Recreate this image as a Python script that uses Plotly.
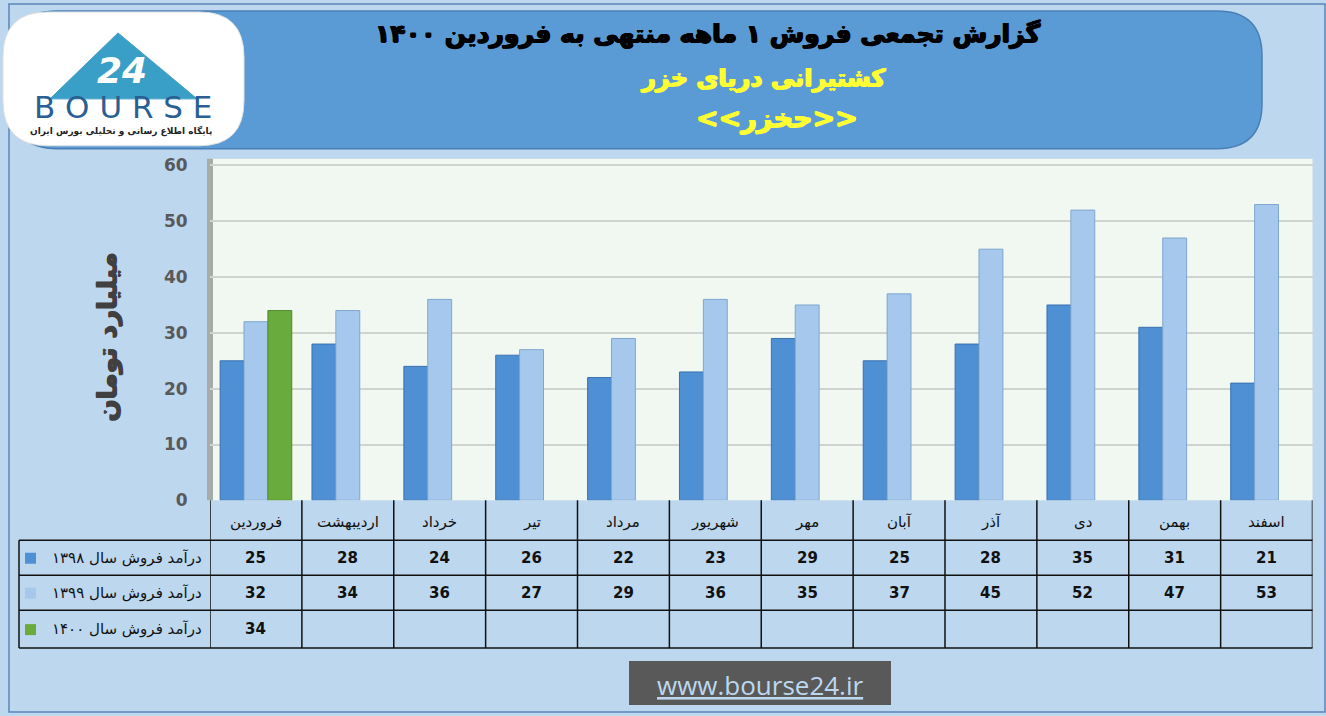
import plotly.graph_objects as go

months = ["فروردین", "اردیبهشت", "خرداد", "تیر", "مرداد", "شهریور",
          "مهر", "آبان", "آذر", "دی", "بهمن", "اسفند"]
sales_1398 = [25, 28, 24, 26, 22, 23, 29, 25, 28, 35, 31, 21]
sales_1399 = [32, 34, 36, 27, 29, 36, 35, 37, 45, 52, 47, 53]
sales_1400 = [34, None, None, None, None, None, None, None, None, None, None, None]
series_names = ["درآمد فروش سال ۱۳۹۸", "درآمد فروش سال ۱۳۹۹", "درآمد فروش سال ۱۴۰۰"]
series_colors = ["#4f8fd3", "#a6c8ec", "#6aab3e"]
series_lines = ["#3a72b0", "#7fa6cf", "#4e8a2a"]
y_ticks = [0, 10, 20, 30, 40, 50, 60]

W, H = 1326, 716
def px(x): return x / W
def py(y): return 1 - (y - 2) / H

FONT = "DejaVu Sans"

fig = go.Figure()
for vals, name, col, lc in zip([sales_1398, sales_1399, sales_1400], series_names, series_colors, series_lines):
    fig.add_trace(go.Bar(x=months, y=vals, name=name, marker=dict(color=col, line=dict(color=lc, width=1)),
                         showlegend=False))

def rrect(x0, y0, x1, y1, r):
    X0, X1 = px(x0), px(x1)
    Y0, Y1 = py(y0), py(y1)
    rx, ry = r / W, r / H
    return (f"M {X0+rx},{Y0} L {X1-rx},{Y0} Q {X1},{Y0} {X1},{Y0-ry} "
            f"L {X1},{Y1+ry} Q {X1},{Y1} {X1-rx},{Y1} L {X0+rx},{Y1} "
            f"Q {X0},{Y1} {X0},{Y1+ry} L {X0},{Y0-ry} Q {X0},{Y0} {X0+rx},{Y0} Z")

shapes = []
shapes.append(dict(type="rect", xref="paper", yref="paper", x0=px(9), x1=px(1325), y0=py(712), y1=py(3),
                   line=dict(color="#5a87b8", width=1.5), fillcolor="rgba(0,0,0,0)", layer="below"))
shapes.append(dict(type="path", xref="paper", yref="paper", path=rrect(12, 10, 1262, 148, 45),
                   fillcolor="#5b9bd5", line=dict(color="#4a7fb5", width=1.5), layer="above"))
shapes.append(dict(type="path", xref="paper", yref="paper", path=rrect(3, 11, 244, 145, 45),
                   fillcolor="#ffffff", line=dict(color="#e0e0e0", width=1), layer="above"))
shapes.append(dict(type="path", xref="paper", yref="paper",
                   path=f"M {px(118)},{py(32)} L {px(197)},{py(98)} L {px(50)},{py(98)} Z",
                   fillcolor="#3a9fc7", line=dict(color="#3a9fc7", width=1), layer="above"))
shapes.append(dict(type="rect", xref="paper", yref="paper", x0=px(207), x1=px(213), y0=py(500), y1=py(158),
                   fillcolor="#a8aca8", line=dict(width=0), layer="below"))
tl = dict(color="#111111", width=1.5)
for i in range(13):
    shapes.append(dict(type="line", xref="x", yref="paper", x0=i - 0.5, x1=i - 0.5, y0=py(500), y1=py(648), line=tl))
shapes.append(dict(type="line", xref="paper", yref="paper", x0=px(19), x1=px(19), y0=py(540), y1=py(648), line=tl))
for yy in [540, 575, 610, 648]:
    shapes.append(dict(type="line", xref="paper", yref="paper", x0=px(19), x1=px(1312.5), y0=py(yy), y1=py(yy), line=tl))
row_y = [557.5, 592.5, 629]
for col, ry in zip(series_colors, row_y):
    shapes.append(dict(type="rect", xref="paper", yref="paper", x0=px(25), x1=px(36), y0=py(ry + 6), y1=py(ry - 5),
                       fillcolor=col, line=dict(width=0)))
shapes.append(dict(type="rect", xref="paper", yref="paper", x0=px(629), x1=px(891), y0=py(705), y1=py(661),
                   fillcolor="#595959", line=dict(width=0)))

def A(text, x, y, size, color, xref="paper", xanchor="center", family=FONT, shadow=None, **kw):
    f = dict(family=family, size=size, color=color)
    if shadow:
        f["shadow"] = shadow
    d = dict(text=text, x=x, y=y, xref=xref, yref="paper", showarrow=False, xanchor=xanchor, yanchor="middle", font=f)
    d.update(kw)
    return d

def thick(c):
    return f"0.8px 0px 0px {c}, -0.8px 0px 0px {c}, 0px 0.8px 0px {c}"

ann = []
ann.append(A("<b>گزارش تجمعی فروش ۱ ماهه منتهی به فروردین ۱۴۰۰</b>", px(708), py(33), 25, "#000000", shadow=thick("#000000")))
ann.append(A("<b>کشتیرانی دریای خزر</b>", px(763), py(77), 24, "#ffff33", shadow=thick("#ffff33")))
ann.append(A("<b>&lt;&lt;حخزر&gt;&gt;</b>", px(777), py(117), 27, "#ffff33", shadow=thick("#ffff33")))
ann.append(A("<b><i>24</i></b>", px(122), py(70), 36, "#ffffff"))
ann.append(A("B&nbsp;O&nbsp;U&nbsp;R&nbsp;S&nbsp;E", px(123), py(106), 31, "#2a5f94"))
ann.append(A("<b>پایگاه اطلاع رسانی و تحلیلی بورس ایران</b>", px(121), py(130), 9, "#222222"))
ann.append(A("<b>میلیارد تومان</b>", px(108), py(337), 26, "#404040", textangle=-90, shadow=thick("#404040")))
for i, m in enumerate(months):
    ann.append(A(m, i, py(522), 15, "#111111", xref="x"))
for vals, ry in zip([sales_1398, sales_1399, sales_1400], row_y):
    for i, v in enumerate(vals):
        if v is not None:
            ann.append(A(f"<b>{v}</b>", i, py(ry), 15, "#111111", xref="x"))
for name, ry in zip(series_names, row_y):
    ann.append(A(name, px(204), py(ry), 15, "#111111", xanchor="right"))
ann.append(A("<u>www.bourse24.ir</u>", px(760), py(685), 26, "#bdd7ee", family="Open Sans"))

fig.update_layout(
    width=W, height=728,
    margin=dict(l=0, r=0, t=0, b=0),
    paper_bgcolor="#bdd7ee",
    plot_bgcolor="#f1f7f1",
    barmode="group",
    bargap=0.22,
    bargroupgap=0.0,
    xaxis=dict(domain=[px(210), px(1312.5)], showticklabels=False, ticks="", showgrid=False,
               zeroline=False, showline=False, range=[-0.5, 11.5]),
    yaxis=dict(domain=[py(500), py(158)], range=[0, 61.2], tickvals=y_ticks, showgrid=True,
               gridcolor="#d0d4d0", gridwidth=1.5, zeroline=False, showline=False,
               ticks="outside", ticklen=18, tickcolor="rgba(0,0,0,0)",
               tickfont=dict(family=FONT, size=17, color="#595959", weight="bold")),
    shapes=shapes,
    annotations=ann,
    font=dict(family=FONT),
)

post = ("document.body.style.margin='0';"
        "var d=document.getElementById('{plot_id}');"
        "d.style.position='fixed';d.style.top='0';d.style.left='0';")
fig.write_html("out.html", post_script=post, config={"displayModeBar": False})
